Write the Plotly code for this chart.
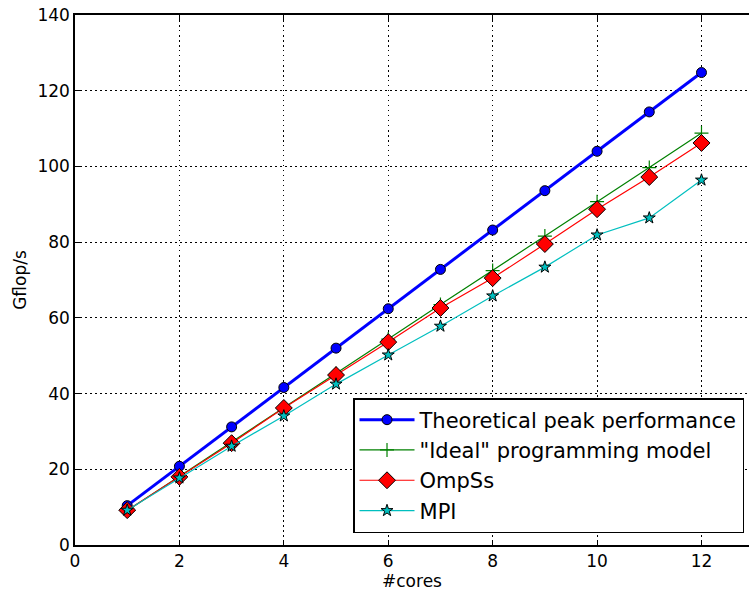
import plotly.graph_objects as go

cores = [1, 2, 3, 4, 5, 6, 7, 8, 9, 10, 11, 12]
peak = [10.4, 20.8, 31.2, 41.6, 52.0, 62.4, 72.8, 83.2, 93.6, 104.0, 114.4, 124.8]
ideal = [9.07, 18.1, 27.2, 36.3, 45.3, 54.4, 63.5, 72.5, 81.6, 90.7, 99.7, 108.8]
ompss = [9.2, 18.0, 26.9, 36.2, 44.9, 53.6, 62.6, 70.5, 79.5, 88.7, 97.2, 106.2]
mpi = [9.2, 17.7, 26.1, 34.1, 42.5, 50.2, 57.8, 65.8, 73.4, 81.9, 86.4, 96.4]

font = "DejaVu Sans"
fig = go.Figure()
fig.add_trace(go.Scatter(x=cores, y=peak, name="Theoretical peak performance", mode="lines+markers",
                         line=dict(color="#0000ff", width=3),
                         marker=dict(symbol="circle", size=10, color="#0000ff", line=dict(color="black", width=1))))
fig.add_trace(go.Scatter(x=cores, y=ideal, name='"Ideal" programming model', mode="lines+markers",
                         line=dict(color="#008000", width=1.2),
                         marker=dict(symbol="cross-thin", size=10, color="#008000", line=dict(color="#008000", width=1.2))))
fig.add_trace(go.Scatter(x=cores, y=ompss, name="OmpSs", mode="lines+markers",
                         line=dict(color="#ff0000", width=1.2),
                         marker=dict(symbol="diamond", size=13, color="#ff0000", line=dict(color="black", width=1))))
fig.add_trace(go.Scatter(x=cores, y=mpi, name="MPI", mode="lines+markers",
                         line=dict(color="#00bfbf", width=1.2),
                         marker=dict(symbol="star", size=9, color="#00bfbf", line=dict(color="black", width=1))))

grid_dash = "1.5px,3.5px"
fig.update_layout(
    width=749, height=591,
    margin=dict(l=75, r=0, t=15, b=46),
    paper_bgcolor="white", plot_bgcolor="white",
    font=dict(family=font, size=17, color="black"),
    legend=dict(x=0.9926, y=0.0226, xanchor="right", yanchor="bottom",
                bordercolor="black", borderwidth=1.5, bgcolor="white",
                font=dict(size=21, family=font), tracegroupgap=0, itemwidth=55),
    xaxis=dict(range=[0, 12.91], tickvals=[0, 2, 4, 6, 8, 10, 12], ticks="inside", ticklen=5,
               tickcolor="black", showline=True, linecolor="black", linewidth=1.5, mirror="ticks",
               showgrid=True, gridcolor="black", griddash=grid_dash, gridwidth=1, zeroline=False,
               title=dict(text="#cores", font=dict(size=17), standoff=4)),
    yaxis=dict(range=[0, 140], tickvals=[0, 20, 40, 60, 80, 100, 120, 140], ticks="inside", ticklen=5,
               tickcolor="black", showline=True, linecolor="black", linewidth=1.5,
               showgrid=True, gridcolor="black", griddash=grid_dash, gridwidth=1, zeroline=False,
               title=dict(text="Gflop/s", font=dict(size=17), standoff=6)),
)
fig.write_html("out.html")
